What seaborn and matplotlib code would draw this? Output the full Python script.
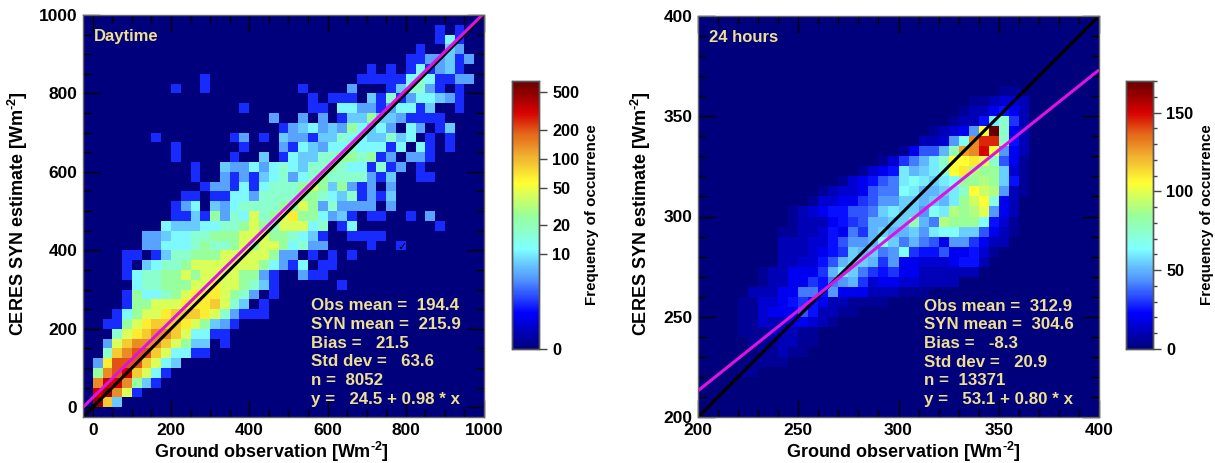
import numpy as np
import pandas as pd
import matplotlib
matplotlib.use('Agg')
import matplotlib.pyplot as plt
import seaborn as sns
from matplotlib.colors import LinearSegmentedColormap, LogNorm, Normalize

# Daytime panel: each row = first column + one letter per 25 Wm-2 cell, top row first
DAY_START = [0, 36, 36, 34, 33, 29, 12, 9, 23, 16, 19, 20, 7, 9, 9, 11, 11, 12, 10, 9, 9,
             8, 6, 6, 4, 4, 4, 5, 4, 4, 3, 2, 3, 2, 2, 1, 1, 1, 1, 1, 0]
DAY_CELLS = ["", "a.a", "ada", "a..cb", "aabbcab", "a.a.adabca",
             "a...............aaaaadedaabb",
             "a..a.........a....b...aceeba.a", "a.aaa.caeabddcba",
             "a......aa.ddbbabddac..a",
             "b..b.b.accfccbaaaa", "abcdbcbfdcdb.db.ac",
             "a.......ab.a.cbbacceddccecd.a.a", "a......a...badcbddedddad.da.a",
             "a.....a..c.adcceeffefab.bba", "a..cbbdbdedceefeddaeab.a",
             "a..babacdebdefeeeebac..aa", "abbadadeeefgfcfbab.b",
             "aa.aaddbeeeeffedceabac", "abd.cbdeeeeffgfbebbbb.b",
             "aacafbedgefghffdbca.aa..a.b", "dcccddeefgfegggde.ad........a",
             "bbcddeefffgggffedca..aaaa", "bbdddefeefgfggfdebb....a..a",
             "aa.aceefffgggggfbb.a.a.a", "a.cdeefgggggggfdbad.aa",
             "adeeffgfggggffba..baa", "deefffgghggfeca......a", "afddefghhhgfeb.a",
             "affggghhhigec.a", "adfgghiiihgebaaa", "aafghiiihgfcba", "eghijjigddaa",
             "bgijjjigfcc.a", "eijkkigddaa", "bhkkkigdc", "fjkligda", "jlljfca",
             "lmjga", "mic", ""]
DAY_CODES = ".abcdefghijklm"
DAY_COUNTS = [0, 3, 6, 8, 11, 17, 25, 42, 65, 85, 140, 205, 330, 480]

# 24 hours panel: same idea, base-36 digit = count / 5
ALL_START = [0, 0, 0, 0, 0, 0, 0, 30, 27, 26, 25, 23, 22, 20, 18, 16, 14, 12, 11, 9, 9,
             8, 8, 8, 8, 6, 6, 5, 4, 4, 4, 4, 5, 6, 5, 4, 0, 0, 0, 0]
ALL_CELLS = ["", "", "", "", "", "", "", "11", "112332", "1224542", "1225cf62",
             "12349lyf42", "2239dqttf52", "1477agpqul942", "1368acfllmkf741",
             "1345cabcelmihhb31", "134578cdcbcdhhihb51", "12334788dcaabcflji921",
             "133446799bbabachjle42", "123455778bcbb9dcihik942",
             "12224567aabbga8ihhhd531", "112235486abaab9cddbb7421",
             "222335799adb8a874996422", "2223456bab89d655744531",
             "223357abba69443334552", "1224446acb865644222222",
             "122446589a6344332222", "222448859444222111", "113345654221111",
             "113444752211", "1132244321", "11122211", "1112211", "11211", "1111", "11",
             "", "", "", ""]

DAY_STATS = ["Obs mean =  194.4", "SYN mean =  215.9", "Bias =   21.5",
             "Std dev =   63.6", "n =  8052", "y =   24.5 + 0.98 * x"]
ALL_STATS = ["Obs mean =  312.9", "SYN mean =  304.6", "Bias =   -8.3",
             "Std dev =   20.9", "n =  13371", "y =   53.1 + 0.80 * x"]
DAY_FIT = (24.5, 0.98)
ALL_FIT = (53.1, 0.80)
DAY_CBAR_TICKS = [1, 10, 20, 50, 100, 200, 500]
DAY_CBAR_LABELS = ['0', '10', '20', '50', '100', '200', '500']
ALL_CBAR_TICKS = [0, 50, 100, 150]

W, H = 1215, 463
NAVY = '#00007C'
CREAM = '#EFE08E'
XLABEL = r'Ground observation [Wm$^{\text{-2}}$]'
YLABEL = r'CERES SYN estimate [Wm$^{\text{-2}}$]'

sns.set_theme(style='white')
plt.rcParams['font.family'] = ['Liberation Sans', 'DejaVu Sans']
plt.rcParams['font.weight'] = 'bold'
plt.rcParams['text.color'] = 'black'
plt.rcParams['xtick.color'] = 'black'
plt.rcParams['ytick.color'] = 'black'
plt.rcParams['mathtext.fontset'] = 'custom'
plt.rcParams['mathtext.bf'] = 'Liberation Sans:bold'
plt.rcParams['mathtext.rm'] = 'Liberation Sans:bold'
plt.rcParams['mathtext.default'] = 'bf'

cmap = LinearSegmentedColormap.from_list('freq', [
    (0.0, NAVY), (0.133, '#0000FF'), (0.25, '#4D8CFF'), (0.375, '#80FFFF'),
    (0.5, '#99FF99'), (0.62, '#FFFF33'), (0.72, '#F0B030'), (0.8, '#E56A1A'),
    (0.885, '#D60000'), (1.0, '#660000')])


def build_grid(starts, cells, values, size):
    grid = np.zeros((size, size))
    for i, (s, row) in enumerate(zip(starts, cells)):
        for k, c in enumerate(row):
            grid[i, s + k] = values(c)
    return pd.DataFrame(grid)


def box(x0, y0, x1, y1):
    # pixel box (top-left origin) -> figure fraction rect
    return [x0 / W, 1 - y1 / H, (x1 - x0) / W, (y1 - y0) / H]


def draw_panel(rect, cbar_rect, data, norm, xmin, xmax, major, minor, fit, stats, title):
    ax = fig.add_axes(box(*rect))
    cax = fig.add_axes(box(*cbar_rect))
    ax.set_facecolor(NAVY)
    sns.heatmap(data, ax=ax, cbar_ax=cax, cmap=cmap, norm=norm, mask=data == 0,
                xticklabels=False, yticklabels=False)
    n = data.shape[0]
    step = (xmax - xmin) / n
    to_x = lambda v: (np.asarray(v, dtype=float) - xmin) / step
    to_y = lambda v: (xmax - np.asarray(v, dtype=float)) / step

    edges = np.array([xmin, xmax], dtype=float)
    ax.plot(to_x(edges), to_y(edges), color='black', lw=2.2, solid_capstyle='butt')
    ax.plot(to_x(edges), to_y(fit[0] + fit[1] * edges), color='#E012E0', lw=2.2,
            solid_capstyle='butt')
    ax.set_xlim(0, n)
    ax.set_ylim(n, 0)

    major_ticks = np.arange(max(xmin, 0), xmax + 1, major)
    minor_ticks = np.arange(max(xmin, 0), xmax + 1, minor)
    ax.set_xticks(to_x(major_ticks))
    ax.set_xticklabels([str(int(v)) for v in major_ticks], fontsize=12.5)
    ax.set_yticks(to_y(major_ticks))
    ax.set_yticklabels([str(int(v)) for v in major_ticks], fontsize=12.5)
    ax.set_xticks(to_x(minor_ticks), minor=True)
    ax.set_yticks(to_y(minor_ticks), minor=True)
    ax.tick_params(which='major', direction='in', length=12, width=1, color='black',
                   top=True, right=True, bottom=True, left=True, pad=4)
    ax.tick_params(which='minor', direction='in', length=6, width=1, color='black',
                   top=True, right=True, bottom=True, left=True)
    for sp in ax.spines.values():
        sp.set_visible(True)
        sp.set_color('#666666')
        sp.set_linewidth(1.0)

    ax.text(0.027, 0.947, title, transform=ax.transAxes, color=CREAM, fontsize=12,
            va='center', ha='left')
    for i, line in enumerate(stats):
        ax.text(stats_x, 0.2765 - i * 0.0465, line, transform=ax.transAxes, color=CREAM,
                fontsize=12.2, va='center', ha='left')

    cax.tick_params(which='both', direction='out', color='#444444', width=1, right=True)
    for sp in cax.spines.values():
        sp.set_visible(True)
        sp.set_color('#555555')
        sp.set_linewidth(1.0)
    return ax, cax


fig = plt.figure(figsize=(W / 100, H / 100), dpi=100)

# Daytime
day = build_grid(DAY_START, DAY_CELLS, lambda c: DAY_COUNTS[DAY_CODES.index(c)], 41)
stats_x = 0.569
ax1, cax1 = draw_panel((83, 15, 484, 417), (512, 81, 539, 349), day, LogNorm(vmin=1, vmax=660),
                       -25, 1000, 200, 50, DAY_FIT, DAY_STATS, 'Daytime')
cax1.set_yticks(DAY_CBAR_TICKS)
cax1.set_yticklabels(DAY_CBAR_LABELS, fontsize=11.7)
cax1.minorticks_off()
cax1.tick_params(which='major', length=6)
# stray tick mark visible in the source image
ax1.text((790 + 25) / 25, (1000 - 408) / 25, '\u2713', color='black', fontsize=8,
         ha='center', va='center', family=['DejaVu Sans'])

# 24 hours
hours = build_grid(ALL_START, ALL_CELLS, lambda c: int(c, 36) * 5, 40)
stats_x = 0.5636
ax2, cax2 = draw_panel((698, 16, 1099, 417), (1126, 81, 1153, 349), hours, Normalize(vmin=0, vmax=170),
                       200, 400, 50, 10, ALL_FIT, ALL_STATS, '24 hours')
cax2.set_yticks(ALL_CBAR_TICKS)
cax2.set_yticklabels([str(v) for v in ALL_CBAR_TICKS], fontsize=11.7)
cax2.set_yticks(np.arange(0, 171, 10), minor=True)
cax2.tick_params(which='major', length=6)
cax2.tick_params(which='minor', length=3)

for x, y, label, rot in [(271, 452, XLABEL, 0), (903, 452, XLABEL, 0),
                         (18, 214, YLABEL, 90), (641, 214, YLABEL, 90)]:
    fig.text(x / W, 1 - y / H, label, fontsize=13, rotation=rot, ha='center', va='center')
for x in (592, 1207):
    fig.text(x / W, 1 - 215 / H, 'Frequency of occurrence', fontsize=10.9, rotation=90,
             ha='center', va='center')

fig.savefig('out.png', dpi=100)
